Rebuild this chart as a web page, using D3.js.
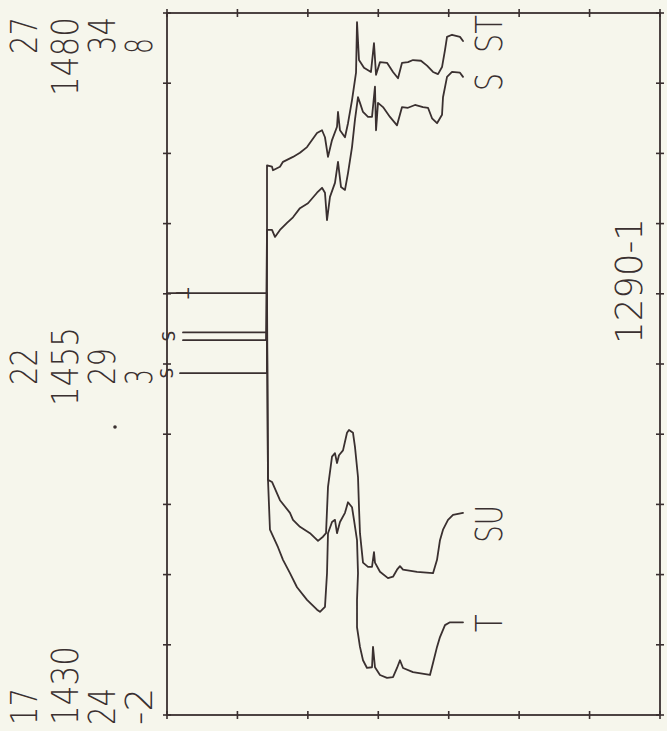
<!DOCTYPE html>
<html>
<head>
<meta charset="utf-8">
<script src="https://cdn.jsdelivr.net/npm/d3@7/dist/d3.min.js"></script>
<style>
  html, body { margin: 0; padding: 0; background: #f6f6ec; }
  svg { display: block; }
  text { font-family: "DejaVu Sans", "Liberation Sans", sans-serif; font-weight: 200; }
  text.mark { font-weight: 400; }
</style>
</head>
<body>
<svg id="chart" width="667" height="731"></svg>
<script>
// Station 1290-1: temperature, salinity, sigma-t and sound speed against depth.
// The sheet is turned on its side: depth runs left to right, values run upward.

// [depth, value] pairs for each profile
const temperature = [
  [0, 4.01], [14.2, 4.01], [14.34, 1.35], [14.62, 0.64], [15.76, 0.39], [16.47, 0.21],
  [17.46, 0.02], [18.46, -0.18], [19.88, -0.36], [21.3, -0.5], [21.72, -0.53], [22.43, -0.46],
  [22.72, 0.02], [22.86, 0.59], [23.43, 0.75], [23.85, 0.78], [24.14, 0.59], [24.56, 0.75],
  [25.27, 0.88], [25.7, 1.03], [26.27, 0.96], [26.55, 0.78], [26.98, 0.49], [27.12, 0.02],
  [26.98, -0.36], [26.98, -0.75], [27.4, -1.03], [27.83, -1.22], [28.4, -1.33], [29.11, -1.32],
  [29.25, -1.03], [29.53, -1.32], [30.24, -1.43], [31.24, -1.47], [32.09, -1.46], [32.66, -1.33],
  [33.08, -1.22], [33.51, -1.33], [34.93, -1.39], [37.34, -1.43], [37.77, -1.26], [38.34, -1.03],
  [38.76, -0.89], [39.47, -0.72], [40.18, -0.68], [42.03, -0.68]
];

const soundSpeed = [
  [2.27, 1457.25], [14.2, 1457.25], [14.34, 1446.75], [14.91, 1446.6], [16.04, 1445.3],
  [17.46, 1444.4], [17.89, 1443.9], [18.88, 1443.4], [20.3, 1442.95], [21.44, 1442.4],
  [22.15, 1442.7], [22.58, 1442.95], [22.86, 1446.25], [23.43, 1448.4], [23.85, 1448.65],
  [24.14, 1447.95], [24.42, 1448.5], [24.99, 1448.85], [25.56, 1450.1], [25.84, 1450.3],
  [26.41, 1450.1], [26.69, 1449.1], [27.12, 1446.95], [27.26, 1444.8], [27.4, 1442.95],
  [27.83, 1440.85], [28.54, 1440.55], [29.11, 1440.55], [29.39, 1441.6], [29.53, 1440.85],
  [30.24, 1440.2], [31.38, 1439.75], [32.09, 1439.85], [32.66, 1440.35], [33.08, 1440.6],
  [33.51, 1440.35], [35.5, 1440.2], [37.77, 1440.1], [38.34, 1441.05], [38.76, 1442.45],
  [39.19, 1443.2], [39.9, 1443.9], [40.61, 1444.25], [42.03, 1444.4]
];

const salinity = [
  [2.27, 29.34], [14.06, 29.34], [14.2, 30.91], [14.91, 30.91], [15.33, 30.81], [16.04, 30.91],
  [17.04, 31.01], [17.89, 31.09], [18.88, 31.22], [20.02, 31.29], [21.3, 31.44], [22.01, 31.51],
  [22.43, 31.44], [22.72, 31.05], [23.14, 31.38], [23.85, 31.58], [24.28, 31.88], [24.71, 31.52],
  [25.27, 31.48], [25.7, 31.72], [26.27, 32.09], [26.69, 32.48], [27.12, 32.8], [27.4, 32.72],
  [27.83, 32.59], [28.54, 32.52], [29.11, 32.52], [29.53, 32.95], [29.68, 32.33], [29.96, 32.72],
  [30.67, 32.66], [31.66, 32.52], [32.66, 32.4], [33.37, 32.66], [34.22, 32.65], [35.21, 32.69],
  [36.35, 32.66], [37.06, 32.65], [37.63, 32.5], [38.34, 32.43], [39.05, 32.55], [39.19, 32.8],
  [39.76, 33.09], [40.47, 33.16], [41.6, 33.15], [42.03, 33.09]
];

const sigmaT = [
  [1.85, 21.87], [14.2, 21.87], [14.2, 24.83], [14.91, 24.81], [15.05, 24.76], [16.04, 24.81],
  [16.47, 24.88], [17.89, 24.95], [18.88, 25.01], [19.88, 25.09], [21.3, 25.29], [22.01, 25.33],
  [22.43, 25.23], [22.86, 24.95], [23.43, 25.19], [24.14, 25.38], [24.28, 25.59], [24.56, 25.33],
  [25.27, 25.23], [25.7, 25.43], [26.27, 25.76], [26.84, 26.15], [26.98, 26.87], [27.26, 26.33],
  [27.97, 26.22], [28.96, 26.16], [29.39, 26.57], [29.68, 26.12], [30.24, 26.3], [31.24, 26.29],
  [32.09, 26.16], [32.8, 26.07], [33.37, 26.29], [34.22, 26.3], [34.93, 26.33], [36.06, 26.32],
  [36.92, 26.25], [37.77, 26.16], [38.48, 26.13], [39.05, 26.23], [39.47, 26.47], [39.76, 26.66],
  [40.47, 26.69], [41.6, 26.66], [42.03, 26.6]
];

// scale end and middle labels, one list per quantity (columns left to right)
const sigmaTickLabels = ["17", "22", "27"];
const soundTickLabels = ["1430", "1455", "1480"];
const salinityTickLabels = ["24", "29", "34"];
const temperatureTickLabels = ["-2", "3", "8"];

const depthDomain = [0, 70];
const sigmaDomain = [17, 27];
const soundDomain = [1430, 1480];
const salinityDomain = [24, 34];
const temperatureDomain = [-2, 8];

const stationLabel = "1290-1";

// ---- layout ----
const ink = "#3a3030";
const frame = { left: 167, right: 660, top: 13, bottom: 715 };
const svg = d3.select("#chart");

const x = d3.scaleLinear().domain(depthDomain).range([frame.left, frame.right]);
const yRange = [frame.bottom, frame.top];
const ySigma = d3.scaleLinear().domain(sigmaDomain).range(yRange);
const ySound = d3.scaleLinear().domain(soundDomain).range(yRange);
const ySal = d3.scaleLinear().domain(salinityDomain).range(yRange);
const yTemp = d3.scaleLinear().domain(temperatureDomain).range(yRange);

// frame
svg.append("rect")
  .attr("x", frame.left).attr("y", frame.top)
  .attr("width", frame.right - frame.left).attr("height", frame.bottom - frame.top)
  .attr("fill", "none").attr("stroke", ink).attr("stroke-width", 1.8);

// cross ticks on all four sides
const tickHalf = 4;
const depthTicks = x.ticks(7);
const valueTicks = yTemp.ticks(10);
const ticks = svg.append("g").attr("stroke", ink).attr("stroke-width", 1.6);
[frame.top, frame.bottom].forEach(yy => {
  ticks.selectAll(null).data(depthTicks).join("line")
    .attr("x1", d => x(d)).attr("x2", d => x(d))
    .attr("y1", yy - tickHalf).attr("y2", yy + tickHalf);
});
[frame.left, frame.right].forEach(xx => {
  ticks.selectAll(null).data(valueTicks).join("line")
    .attr("y1", d => yTemp(d)).attr("y2", d => yTemp(d))
    .attr("x1", xx - tickHalf).attr("x2", xx + tickHalf);
});

// rotated text helper: reads bottom to top, baseline at bx, starting at y0
const fontSize = 38, advance = 21;
function rotText(bx, y0, str, size, len) {
  return svg.append("text")
    .attr("transform", `translate(${bx},${y0}) rotate(-90)`)
    .attr("font-size", size)
    .attr("fill", ink)
    .attr("textLength", len)
    .attr("lengthAdjust", "spacingAndGlyphs")
    .text(str);
}

// scale labels: bottom = minimum, middle, top = maximum
const columns = [
  { labels: sigmaTickLabels, scale: ySigma, bx: 37 },
  { labels: soundTickLabels, scale: ySound, bx: 78 },
  { labels: salinityTickLabels, scale: ySal, bx: 115 },
  { labels: temperatureTickLabels, scale: yTemp, bx: 152 }
];
columns.forEach(col => {
  const dom = col.scale.domain();
  const vals = [dom[0], (dom[0] + dom[1]) / 2, dom[1]];
  col.labels.forEach((lab, i) => {
    const field = Math.max(2, lab.length) * advance;
    const yv = col.scale(vals[i]);
    let start;
    if (i === 0) start = yv + 10;
    else if (i === 1) start = yv + field / 2;
    else start = yv - 1 + field;
    rotText(col.bx, start, lab, fontSize, lab.length * advance - 5);
  });
});

// profiles
const profiles = [
  { data: temperature, y: yTemp, label: "T", dy: 10 },
  { data: soundSpeed, y: ySound, label: "SU", dy: 30 },
  { data: salinity, y: ySal, label: "S", dy: 14 },
  { data: sigmaT, y: ySigma, label: "ST", dy: 12 }
];
profiles.forEach(p => {
  const line = d3.line().x(d => x(d[0])).y(d => p.y(d[1])).curve(d3.curveLinear);
  svg.append("path")
    .attr("d", line(p.data))
    .attr("fill", "none")
    .attr("stroke", ink)
    .attr("stroke-width", 1.8)
    .attr("stroke-linejoin", "round")
    .attr("stroke-linecap", "round");
  const last = p.data[p.data.length - 1];
  rotText(x(last[0]) + 39, p.y(last[1]) + p.dy, p.label, fontSize, p.label.length * 20 - 2);
});

// small pen marks where the profiles leave the left edge
const markFont = 17;
const marks = svg.append("g").attr("fill", ink).attr("font-size", markFont)
  .attr("text-anchor", "middle");
marks.append("text").attr("class", "mark")
  .attr("transform", `translate(${frame.left + 9},${yTemp(temperature[0][1])}) rotate(90)`)
  .text("T");
marks.append("text").attr("class", "mark")
  .attr("transform", `translate(${frame.left + 8},${ySal(salinity[0][1]) - 4}) rotate(-90)`)
  .text("S");
marks.append("text").attr("class", "mark")
  .attr("transform", `translate(${frame.left + 6},${ySigma(sigmaT[0][1])}) rotate(-90)`)
  .text("S");

// station number
rotText(642, 344, stationLabel, fontSize, stationLabel.length * advance);

// stray pen dot beside the scale labels
svg.append("circle").attr("cx", 115).attr("cy", 427).attr("r", 1.8).attr("fill", ink);
</script>
</body>
</html>
